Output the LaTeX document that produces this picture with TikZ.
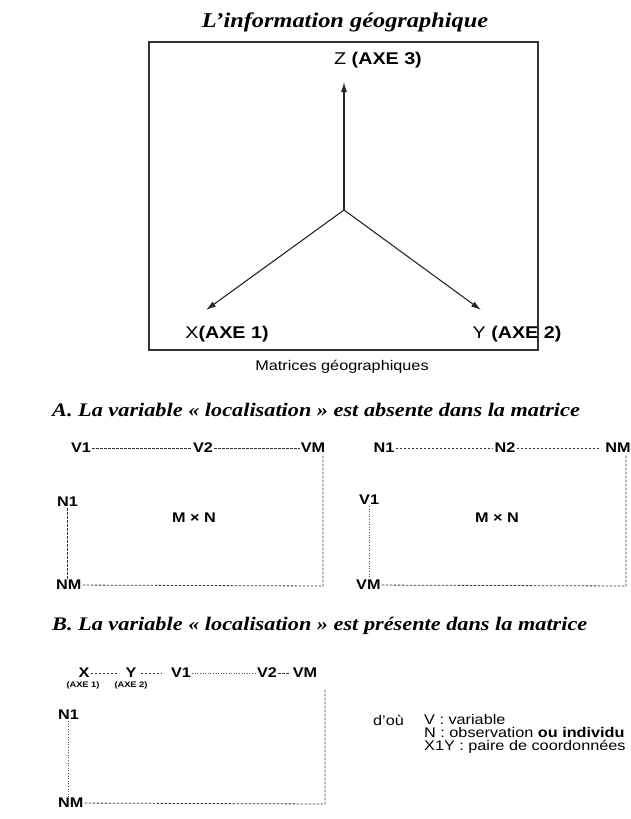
\documentclass[tikz,border=0pt]{standalone}
\usepackage{fontspec}
\setmainfont[FakeStretch=1.16]{Liberation Sans}
\newfontfamily\titlefont[FakeStretch=1.16]{Liberation Serif}
\usetikzlibrary{positioning,arrows.meta}

\begin{document}
\begin{tikzpicture}[x=1pt, y=-1pt,
    every node/.style={inner sep=1pt},
    lab/.style={font=\fontsize{14}{16}\selectfont\bfseries},
    axe/.style={font=\fontsize{17}{19}\selectfont\bfseries},
    small/.style={font=\fontsize{8}{9}\selectfont\bfseries},
    plain/.style={font=\fontsize{14}{13}\selectfont},
    heading/.style={font=\titlefont\fontsize{19.2}{22}\selectfont\bfseries\itshape},
    frame/.style={draw=black!80, line width=1.3pt},
    axis/.style={draw=black!85, line width=1.1pt, -{Latex[length=10pt,width=6pt]}},
    dotline/.style={draw=black!80, dash pattern=on 2.5pt off 1.5pt, line width=0.8pt},
    fineline/.style={draw=black!65, dash pattern=on 1pt off 1.6pt, line width=0.7pt}]
    \useasboundingbox (0,0) rectangle (631,819);
    \clip (0,0) rectangle (631,819);

    % Repère

    \node[heading, font=\titlefont\fontsize{21}{24}\selectfont\bfseries\itshape] (title) at (345,22) {L’information géographique};
    \draw[frame] (149,42) rectangle (538,350);
    \coordinate (origin) at (344,210);
    \coordinate (ztip) at (344,82);
    \coordinate (xtip) at (206,310);
    \coordinate (ytip) at (481,310);
    \node[axe] (zlab) at (378,60) {{\mdseries Z} (AXE 3)};
    \node[axe] (xlab) at (227,334) {{\mdseries X}(AXE 1)};
    \node[axe] (ylab) at (517,334) {{\mdseries Y} (AXE 2)};
    \draw[axis] (origin) -- (ztip);
    \draw[axis] (origin) -- (xtip);
    \draw[axis] (origin) -- (ytip);
    \node[plain] (caption) at (342,367) {Matrices géographiques};

    % Cas A

    \node[heading, anchor=west] (titleA) at (51,410) {A. La variable « localisation » est absente dans la matrice};

    \node[lab] (v1a) at (81,448) {V1};
    \node[lab] (v2a) at (203,448) {V2};
    \node[lab] (vma) at (313,448) {VM};
    \node[lab, anchor=west] (n1a) at (56,502) {N1};
    \node[lab, anchor=west] (nma) at (55,585) {NM};
    \node[lab] (mna) at (194,518) {M × N};
    \coordinate (cornera) at (323,586);
    \draw[dotline] (v1a) -- (v2a) -- (vma);
    \draw[dotline] (n1a.south) -- (n1a.south |- nma.north);
    \draw[dotline] (nma) -- (cornera) -- (cornera |- vma.south);

    \node[lab] (n1b) at (384,448) {N1};
    \node[lab] (n2b) at (505,448) {N2};
    \node[lab] (nmb) at (618,448) {NM};
    \node[lab, anchor=west] (v1b) at (358,500) {V1};
    \node[lab, anchor=west] (vmb) at (355,585) {VM};
    \node[lab] (mnb) at (497,518) {M × N};
    \coordinate (cornerb) at (626,586);
    \draw[dotline] (n1b) -- (n2b);
    \draw[dotline, shorten >=4pt] (n2b) -- (nmb);
    \draw[fineline] (v1b.south) -- (v1b.south |- vmb.north);
    \draw[dotline] (vmb) -- (cornerb) -- (cornerb |- nmb.south);

    % Cas B

    \node[heading, anchor=west] (titleB) at (51,626) {B. La variable « localisation » est présente dans la matrice};

    \node[lab] (xb) at (84,673) {X};
    \node[lab] (yb) at (131,673) {Y};
    \node[lab] (v1c) at (181,673) {V1};
    \node[lab] (v2c) at (267,673) {V2};
    \node[lab] (vmc) at (305,673) {VM};
    \node[small] (axe1) at (83,685) {(AXE 1)};
    \node[small] (axe2) at (131,685) {(AXE 2)};
    \node[lab, anchor=west] (n1c) at (57,715) {N1};
    \node[lab, anchor=west] (nmc) at (57,803) {NM};
    \coordinate (cornerc) at (325,804);
    \draw[dotline, shorten >=6pt] (xb) -- (yb);
    \draw[dotline, shorten <=3pt, shorten >=8pt] (yb) -- (v1c);
    \draw[fineline] (v1c) -- (v2c);
    \draw[dotline, shorten >=2pt] (v2c) -- (vmc);
    \draw[fineline] (n1c.south) -- (n1c.south |- nmc.north);
    \draw[dotline] (nmc) -- (cornerc) -- (cornerc |- axe2.south);

    % Légende

    \node[plain, anchor=west] (dou) at (372,720) {d’où};
    \node[plain, anchor=north west, align=left] (legend) at (423,713)
        {V : variable\\N : observation \textbf{ou individu}\\X1Y : paire de coordonnées};

\end{tikzpicture}
\end{document}
